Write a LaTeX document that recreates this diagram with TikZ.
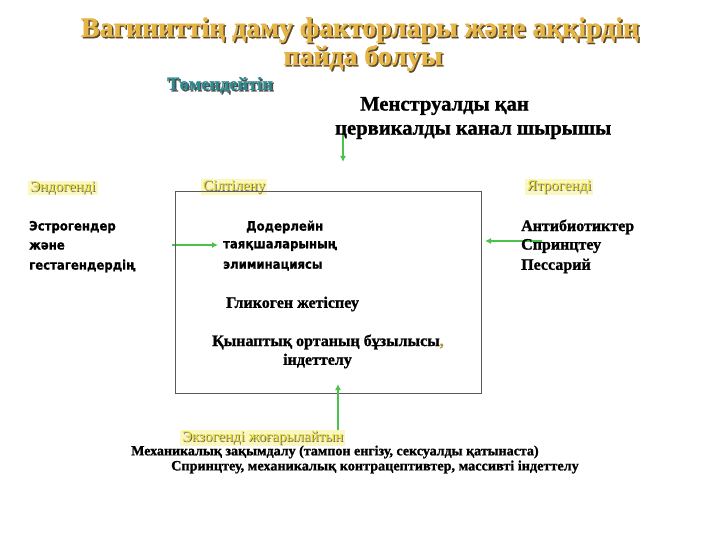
\documentclass[tikz,border=0pt]{standalone}
\usepackage{fontspec}
\setmainfont{Liberation Serif}[BoldFeatures={FakeBold=1.2}]
\newfontfamily\dv{DejaVu Sans Condensed}[BoldFeatures={FakeBold=0.8}]
\usetikzlibrary{arrows.meta}
\definecolor{gold}{HTML}{E6B548}
\definecolor{goldsh}{HTML}{5E4A2A}
\definecolor{teal2}{HTML}{2E8A8E}
\definecolor{ylab}{HTML}{E8D820}
\definecolor{glow}{HTML}{FBF7C0}
\definecolor{garrow}{HTML}{4CC24C}
\definecolor{boxc}{HTML}{5A5A5A}
\tikzset{
  txt/.style={inner sep=0pt, anchor=west, font=\bfseries\fontsize{16}{19}\selectfont},
  sans/.style={inner sep=0pt, anchor=west, font=\dv\bfseries\fontsize{13}{20}\selectfont},
  ttl/.style={inner sep=0pt, text=gold, font=\bfseries\fontsize{27.8}{30}\selectfont},
  ttlsh/.style={inner sep=0pt, text=goldsh, font=\bfseries\fontsize{27.8}{30}\selectfont},
  lab/.style={inner sep=0pt, anchor=west, text=ylab, font=\fontsize{15}{17}\selectfont},
  labsh/.style={inner sep=0pt, anchor=west, text=black!60, font=\fontsize{15}{17}\selectfont},
  labglow/.style={fill=glow, anchor=west, inner xsep=2pt, inner ysep=1pt, font=\fontsize{15}{17}\selectfont},
  garr/.style={draw=garrow, line width=2pt, -{Latex[length=6pt,width=6pt]}},
}
\begin{document}
\begin{tikzpicture}[x=1pt,y=-1pt]
\useasboundingbox (0,0) rectangle (720,540);
% title
\node[ttlsh] (t1s) at (361.5,31.5) {Вагиниттің даму факторлары және аққірдің};
\node[ttl] (t1) at (360,30) {Вагиниттің даму факторлары және аққірдің};
\node[ttlsh] (t2s) at (364.5,59.5) {пайда болуы};
\node[ttl] (t2) at (363,58) {пайда болуы};
% Томендейтін
\node[txt, text=black!70, font=\bfseries\fontsize{18.4}{20}\selectfont] (tms) at (168.5,86.5) {Төмендейтін};
\node[txt, text=teal2, font=\bfseries\fontsize{18.4}{20}\selectfont] (tm) at (167,85) {Төмендейтін};
% arrows
\coordinate (a1s) at (343,133);
\coordinate (a1e) at (343,162);
\draw[garr] (a1s) -- (a1e);
\coordinate (a2s) at (172,245);
\coordinate (a2e) at (218,245);
\draw[garr] (a2s) -- (a2e);
\coordinate (a3s) at (542,241);
\coordinate (a3e) at (485,241);
\draw[garr] (a3s) -- (a3e);
% menstrual
\node[txt, font=\bfseries\fontsize{20.6}{24}\selectfont] (m1) at (360,106) {Менструалды қан};
\node[txt, font=\bfseries\fontsize{20.6}{24}\selectfont] (m2) at (335,132) {цервикалды канал шырышы};
% yellow labels
\node[labglow] (g1) at (28,188) {\phantom{Эндогенді}};
\node[labsh] (l1s) at (30.8,188.8) {Эндогенді};
\node[lab] (l1) at (30,188) {Эндогенді};
\node[labglow] (g2) at (201,187) {\phantom{Сілтілену}};
\node[labsh] (l2s) at (203.8,187.8) {Сілтілену};
\node[lab] (l2) at (203,187) {Сілтілену};
\node[labglow] (g3) at (525,187) {\phantom{Ятрогенді}};
\node[labsh] (l3s) at (527.8,187.8) {Ятрогенді};
\node[lab] (l3) at (527,187) {Ятрогенді};
\node[labglow] (g4) at (180,438) {\phantom{Экзогенді жоғарылайтын}};
\node[labsh] (l4s) at (182.8,438.8) {Экзогенді жоғарылайтын};
\node[lab] (l4) at (182,438) {Экзогенді жоғарылайтын};
% box
\node[draw=boxc, line width=1pt, minimum width=306pt, minimum height=201pt, inner sep=0pt] (box) at (328,292.5) {};
\coordinate (a4s) at (338,430);
\coordinate (a4e) at (338,384);
\draw[garr] (a4s) -- (a4e);
% left texts
\node[sans] (e1) at (29,227) {Эстрогендер};
\node[sans] (e2) at (29,246) {және};
\node[sans] (e3) at (29,266) {гестагендердің};
% inside box
\node[sans] (d1) at (246,227) {Додерлейн};
\node[sans] (d2) at (223,246) {таяқшаларының};
\node[sans] (d3) at (223,266) {элиминациясы};
\node[txt] (gl) at (226,304) {Гликоген жетіспеу};
\node[txt] (q1) at (212,342) {Қынаптық ортаның бұзылысы\textcolor{gold!80!black}{,}};
\node[txt] (q2) at (283,361) {індеттелу};
% right texts
\node[txt] (r1) at (521,227) {Антибиотиктер};
\node[txt] (r2) at (521,246) {Спринцтеу};
\node[txt] (r3) at (521,266) {Пессарий};
% bottom texts
\node[txt, font=\bfseries\fontsize{14}{16}\selectfont] (b1) at (131,452) {Механикалық зақымдалу (тампон енгізу, сексуалды қатынаста)};
\node[txt, font=\bfseries\fontsize{14.2}{16}\selectfont] (b2) at (171,467) {Спринцтеу, механикалық контрацептивтер, массивті індеттелу};
\end{tikzpicture}
\end{document}
